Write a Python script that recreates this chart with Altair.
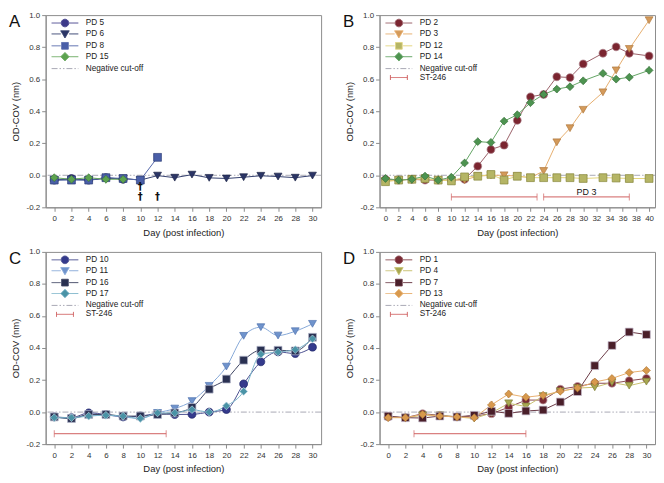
import altair as alt
import pandas as pd

FONT = "Liberation Sans"

# ---------------- data ----------------
DAYS_30 = [0, 2, 4, 6, 8, 10, 12, 14, 16, 18, 20, 22, 24, 26, 28, 30]
DAYS_B = [0, 2, 4, 6, 8, 10, 12, 14, 16, 18, 20, 22, 24, 26, 28, 30, 33, 35, 37, 40]
TICKS_30 = [0, 2, 4, 6, 8, 10, 12, 14, 16, 18, 20, 22, 24, 26, 28, 30]
TICKS_40 = [0, 2, 4, 6, 8, 10, 12, 14, 16, 18, 20, 22, 24, 26, 28, 30, 32, 34, 36, 38, 40]
Y_TICKS = [-0.2, 0.0, 0.2, 0.4, 0.6, 0.8, 1.0]

# Panel A
A_NAMES = ["PD 5", "PD 6", "PD 8", "PD 15"]
A_DAYS = [[0, 2, 4, 6, 8], DAYS_30, [0, 2, 4, 6, 8, 10, 12], [0, 2, 4, 6, 8]]
A_PD5 = [-0.030, -0.020, -0.030, -0.015, -0.025]
A_PD6 = [-0.030, -0.025, -0.030, -0.020, -0.020, -0.030, -0.002, -0.015, 0.004, -0.016,
         -0.020, -0.012, -0.003, -0.008, -0.015, -0.002]
A_PD8 = [-0.030, -0.030, -0.030, -0.015, -0.020, -0.030, 0.112]
A_PD15 = [-0.015, -0.025, -0.015, -0.025, -0.025]
A_DAGGER_DAY = [10, 10, 12]
A_DAGGER_Y = [-0.075, -0.135, -0.135]

# Panel B
B_NAMES = ["PD 2", "PD 3", "PD 12", "PD 14"]
B_PD2 = [-0.025, -0.030, -0.025, -0.030, -0.030, -0.030, -0.025, 0.057, 0.161, 0.188,
         0.343, 0.490, 0.505, 0.615, 0.610, 0.695, 0.762, 0.802, 0.762, 0.745]
B_PD3 = [-0.035, -0.030, -0.025, -0.025, -0.030, -0.030, -0.030, -0.005, 0.000, 0.000,
         -0.005, -0.015, 0.027, 0.206, 0.294, 0.409, 0.518, 0.655, 0.789, 0.968]
B_PD12 = [-0.040, -0.030, -0.025, -0.020, -0.030, -0.035, -0.010, -0.006, 0.005, -0.030,
          -0.006, -0.015, -0.015, -0.015, -0.015, -0.020, -0.015, -0.017, -0.020, -0.020]
B_PD14 = [-0.020, -0.030, -0.025, -0.005, -0.030, -0.012, 0.077, 0.210, 0.205, 0.338,
          0.378, 0.453, 0.505, 0.538, 0.553, 0.590, 0.636, 0.600, 0.612, 0.655]
B_ST_START = [10, 24]
B_ST_END = [23, 37]

# Panel C
C_NAMES = ["PD 10", "PD 11", "PD 16", "PD 17"]
C_PD10 = [-0.030, -0.035, -0.005, -0.015, -0.030, -0.025, -0.010, -0.015, -0.014, 0.000,
          0.016, 0.176, 0.314, 0.376, 0.365, 0.405]
C_PD11 = [-0.030, -0.040, -0.020, -0.020, -0.030, -0.040, -0.005, 0.022, 0.069, 0.164,
          0.284, 0.476, 0.530, 0.478, 0.505, 0.551]
C_PD16 = [-0.030, -0.040, -0.015, -0.015, -0.025, -0.025, -0.015, -0.005, 0.029, 0.143,
          0.206, 0.324, 0.386, 0.386, 0.382, 0.467]
C_PD17 = [-0.035, -0.035, -0.025, -0.020, -0.025, -0.040, -0.005, -0.005, 0.015, 0.000,
          0.039, 0.129, 0.361, 0.375, 0.390, 0.457]
C_ST_START = [0]
C_ST_END = [13]

# Panel D
D_NAMES = ["PD 1", "PD 4", "PD 7", "PD 13"]
D_PD1 = [-0.030, -0.035, -0.010, -0.020, -0.030, -0.025, -0.010, 0.030, 0.075, 0.075,
         0.143, 0.160, 0.180, 0.180, 0.196, 0.210]
D_PD4 = [-0.030, -0.035, -0.020, -0.020, -0.030, -0.040, -0.005, 0.055, 0.035, 0.100,
         0.130, 0.150, 0.155, 0.185, 0.165, 0.190]
D_PD7 = [-0.025, -0.035, -0.037, -0.025, -0.030, -0.020, 0.005, -0.008, 0.007, 0.013,
         0.063, 0.128, 0.290, 0.416, 0.500, 0.484]
D_PD13 = [-0.035, -0.035, -0.015, -0.025, -0.030, -0.035, 0.045, 0.113, 0.093, 0.105,
          0.130, 0.150, 0.188, 0.210, 0.247, 0.260]
D_ST_START = [3]
D_ST_END = [16]

ST_Y = -0.135
CUTOFF_Y = 0.0

# ---------------- styles ----------------
SHAPES = ["circle", "triangle-down", "square", "diamond"]
CUT_COLOR = "#a8a8b4"
ST_COLOR = "#cf5f5f"
CUT_DASH = [6, 2, 1.5, 2, 1.5, 2]
FRAME = "#8c8c8c"

A_FILL = ["#3d3a8a", "#2b3566", "#4a5fa8", "#5da34f"]
A_LINE = ["#4b4890", "#34406e", "#5467aa", "#6aaa60"]
A_OUT = ["#2a285e", "#1e2648", "#2f3f78", "#3f7a38"]

B_FILL = ["#7b2530", "#d49a5a", "#b5b565", "#4d9350"]
B_LINE = ["#9a6068", "#e6ae6e", "#e3d57c", "#62a463"]
B_OUT = ["#b08890", "#b07a40", "#8a8a40", "#357038"]

C_FILL = ["#343a8c", "#6f93cc", "#2a3152", "#4a93a6"]
C_LINE = ["#4a4f90", "#86a8d8", "#3c4260", "#7ab3c8"]
C_OUT = ["#22286a", "#5275b0", "#b0b4c8", "#b8d4e0"]

D_FILL = ["#7a2a35", "#a8a850", "#4a1f2a", "#d8994d"]
D_LINE = ["#8a4a50", "#c8c070", "#6a3a45", "#e8b070"]
D_OUT = ["#c0a0a8", "#80803a", "#c8c0d0", "#b07a38"]


def legend_path(kind):
    line = "M-3,0H-0.95M0.95,0H3"
    if kind == "circle":
        return line + "M0.85,0A0.85,0.85,0,1,1,-0.85,0A0.85,0.85,0,1,1,0.85,0Z"
    if kind == "triangle-down":
        return line + "M-0.95,-0.7L0.95,-0.7L0,0.9Z"
    if kind == "square":
        return line + "M-0.75,-0.75H0.75V0.75H-0.75Z"
    return line + "M0,-0.95L0.95,0L0,0.95L-0.95,0Z"


CUT_PATH = "M-3,0H3"
ST_PATH = "M-1.9,0H1.9M-1.9,-0.55V0.55M1.9,-0.55V0.55"


def make_panel(letter, names, days, values, fills, lines, outs, xdomain, xticks,
               st_start, st_end, interp, notes=None):
    rows = []
    for n, d, v in zip(names, days, values):
        for dd, vv in zip(d, v):
            rows.append({"series": n, "key": "marker " + n, "day": dd, "value": vv})
    df = pd.DataFrame(rows)

    show_st = len(st_start) > 0
    extra = ["Negative cut-off"] + (["ST-246"] if show_st else [])
    leg_names = names + extra
    mkeys = ["marker " + n for n in names]
    dom = leg_names + mkeys

    shape_rng = [legend_path(s) for s in SHAPES] + [CUT_PATH] + ([ST_PATH] if show_st else []) + SHAPES
    fill_rng = fills + ["transparent"] * len(extra) + fills
    stroke_rng = lines + [CUT_COLOR] + ([ST_COLOR] if show_st else []) + outs
    dash_rng = [[1, 0]] * len(names) + [CUT_DASH] + ([[1, 0]] if show_st else []) + [[1, 0]] * len(names)

    legend = alt.Legend(
        title=None, orient="none", legendX=14.5, legendY=3, padding=0,
        values=leg_names,
        symbolSize=81, symbolStrokeWidth=1, symbolOpacity=1,
        labelOffset=16, rowPadding=-3.5,
        labelFont=FONT, labelFontSize=8.3, labelColor="#222", labelLimit=200,
    )

    xscale = alt.Scale(domain=xdomain, nice=False, zero=False)
    yscale = alt.Scale(domain=[-0.2, 1.0], nice=False, zero=False)
    xaxis = alt.Axis(values=xticks, title="Day (post infection)", labelFontSize=8,
                     titleFontSize=9.5, tickSize=4, labelPadding=3, titlePadding=5,
                     labelFlush=False)
    yaxis = alt.Axis(values=Y_TICKS, title="OD-COV (nm)", labelFontSize=8,
                     titleFontSize=9.5, tickSize=4, labelPadding=2, titlePadding=6,
                     labelExpr="datum.value < 0 ? '-' + format(-datum.value, '.1f') : format(datum.value, '.1f')")

    cut_df = pd.DataFrame({"y": [CUTOFF_Y]})
    cut = alt.Chart(cut_df).mark_rule(strokeDash=CUT_DASH, color=CUT_COLOR, strokeWidth=1).encode(
        y=alt.Y("y:Q", scale=yscale, axis=yaxis)
    )

    layers = [cut]

    if show_st:
        st_df = pd.DataFrame({"start": st_start, "end": st_end, "y": [ST_Y] * len(st_start)})
        st_rule = alt.Chart(st_df).mark_rule(color=ST_COLOR, strokeWidth=1).encode(
            x=alt.X("start:Q", scale=xscale, axis=xaxis),
            x2="end:Q",
            y=alt.Y("y:Q", scale=yscale, axis=yaxis),
        )
        caps_df = pd.DataFrame({"day": list(st_start) + list(st_end),
                                "y": [ST_Y] * (2 * len(st_start))})
        caps = alt.Chart(caps_df).mark_tick(orient="vertical", color=ST_COLOR, size=7,
                                            thickness=1).encode(
            x=alt.X("day:Q", scale=xscale, axis=xaxis),
            y=alt.Y("y:Q", scale=yscale, axis=yaxis),
        )
        layers += [st_rule, caps]

    line = alt.Chart(df).mark_line(strokeWidth=1, interpolate=interp).encode(
        x=alt.X("day:Q", scale=xscale, axis=xaxis),
        y=alt.Y("value:Q", scale=yscale, axis=yaxis),
        color=alt.Color("series:N", scale=alt.Scale(domain=names, range=lines), legend=None),
    )
    pts = alt.Chart(df).mark_point(filled=True, size=62, strokeWidth=0.8, opacity=1).encode(
        x=alt.X("day:Q", scale=xscale, axis=xaxis),
        y=alt.Y("value:Q", scale=yscale, axis=yaxis),
        shape=alt.Shape("key:N", scale=alt.Scale(domain=dom, range=shape_rng), legend=legend),
        fill=alt.Fill("key:N", scale=alt.Scale(domain=dom, range=fill_rng), legend=legend),
        stroke=alt.Stroke("key:N", scale=alt.Scale(domain=dom, range=stroke_rng), legend=legend),
        strokeDash=alt.StrokeDash("key:N", scale=alt.Scale(domain=dom, range=dash_rng), legend=legend),
    )
    layers += [line, pts]

    if notes is not None:
        ndf = pd.DataFrame(notes)
        txt = alt.Chart(ndf).mark_text(font=notes.get("font", FONT), fontSize=notes.get("size", 9),
                                       fontWeight=notes.get("weight", "normal"),
                                       color="#111", baseline="middle").encode(
            x=alt.X("day:Q", scale=xscale, axis=xaxis),
            y=alt.Y("y:Q", scale=yscale, axis=yaxis),
            text="label:N",
        )
        layers.append(txt)

    let_df = pd.DataFrame({"letter": [letter]})
    let = alt.Chart(let_df).mark_text(font=FONT, fontSize=17, align="left",
                                      baseline="alphabetic", color="#111").encode(
        x=alt.value(-37), y=alt.value(12), text="letter:N"
    )
    layers.append(let)

    return alt.layer(*layers).properties(width=278, height=194)


panel_a = make_panel("A", A_NAMES, A_DAYS, [A_PD5, A_PD6, A_PD8, A_PD15],
                     A_FILL, A_LINE, A_OUT, [-1, 31], TICKS_30, [], [], "linear",
                     notes={"day": A_DAGGER_DAY, "y": A_DAGGER_Y, "label": ["†"] * 3,
                            "font": "DejaVu Sans", "size": 10, "weight": "bold"})
panel_b = make_panel("B", B_NAMES, [DAYS_B] * 4, [B_PD2, B_PD3, B_PD12, B_PD14],
                     B_FILL, B_LINE, B_OUT, [-0.9, 40.9], TICKS_40, B_ST_START, B_ST_END,
                     "linear", notes={"day": [30.5], "y": [-0.103], "label": ["PD 3"]})
panel_c = make_panel("C", C_NAMES, [DAYS_30] * 4, [C_PD10, C_PD11, C_PD16, C_PD17],
                     C_FILL, C_LINE, C_OUT, [-1, 31], TICKS_30, C_ST_START, C_ST_END,
                     "monotone")
panel_d = make_panel("D", D_NAMES, [DAYS_30] * 4, [D_PD1, D_PD4, D_PD7, D_PD13],
                     D_FILL, D_LINE, D_OUT, [-1, 31], TICKS_30, D_ST_START, D_ST_END,
                     "linear")

RES = dict(color="independent", fill="independent", stroke="independent",
           shape="independent", strokeDash="independent", x="independent", y="independent")

row1 = alt.hconcat(panel_a, panel_b, spacing=20).resolve_scale(**RES)
row2 = alt.hconcat(panel_c, panel_d, spacing=20).resolve_scale(**RES)

chart = alt.vconcat(row1, row2, spacing=10).resolve_scale(**RES).properties(
    padding=0, background="white"
).configure_view(stroke=FRAME, strokeWidth=1).configure_axis(
    labelFont=FONT, titleFont=FONT, labelColor="#333", titleColor="#222",
    tickColor=FRAME, domainColor=FRAME, grid=False, titleFontWeight="normal"
)

chart.save("out.html", embed_options={"renderer": "svg", "actions": False})
